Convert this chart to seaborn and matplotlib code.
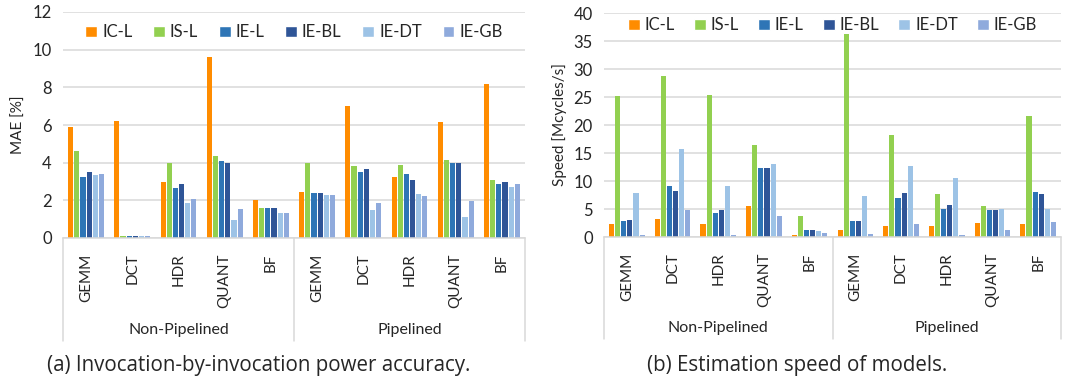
"""
Recreates the two-panel grouped bar chart:
(a) MAE of power models, (b) estimation speed of models.
"""

import pandas as pd
import matplotlib.pyplot as plt
import matplotlib.transforms as mtransforms
from matplotlib.patches import Patch
import seaborn as sns

# -----------------------------
# Data
# -----------------------------
benchmarks = ["GEMM", "DCT", "HDR", "QUANT", "BF"]
modes = ["Non-Pipelined", "Pipelined"]
models = ["IC-L", "IS-L", "IE-L", "IE-BL", "IE-DT", "IE-GB"]

# MAE [%], order: Non-Pipelined GEMM..BF, then Pipelined GEMM..BF
mae_ic_l = [5.9, 6.2, 3.0, 9.6, 2.0, 2.45, 7.0, 3.26, 6.18, 8.18]
mae_is_l = [4.6, 0.1, 4.0, 4.33, 1.57, 4.0, 3.8, 3.85, 4.15, 3.1]
mae_ie_l = [3.26, 0.1, 2.66, 4.08, 1.57, 2.38, 3.48, 3.41, 4.0, 2.89]
mae_ie_bl = [3.48, 0.1, 2.89, 4.0, 1.57, 2.38, 3.64, 3.1, 4.0, 2.96]
mae_ie_dt = [3.35, 0.1, 1.84, 0.96, 1.33, 2.29, 1.47, 2.36, 1.1, 2.73]
mae_ie_gb = [3.42, 0.1, 2.06, 1.54, 1.33, 2.29, 1.84, 2.22, 1.99, 2.89]

# Speed [Mcycles/s]
spd_ic_l = [2.3, 3.3, 2.3, 5.6, 0.3, 1.3, 2.0, 2.0, 2.5, 2.3]
spd_is_l = [25.1, 28.8, 25.3, 16.4, 3.8, 36.3, 18.3, 7.6, 5.5, 21.6]
spd_ie_l = [2.8, 9.1, 4.3, 12.4, 1.3, 2.8, 7.0, 5.0, 4.8, 8.1]
spd_ie_bl = [3.1, 8.3, 4.9, 12.4, 1.3, 2.8, 7.9, 5.8, 4.8, 7.6]
spd_ie_dt = [7.9, 15.7, 9.1, 13.1, 1.1, 7.3, 12.7, 10.6, 5.0, 5.0]
spd_ie_gb = [0.3, 4.8, 0.3, 3.8, 0.8, 0.5, 2.3, 0.3, 1.3, 2.6]

palette = ["#FF8C00", "#92D050", "#2E75B6", "#2F5597", "#9DC3E6", "#8FAADC"]
GRID = "#D9D9D9"


def to_long(series):
    rows = []
    for model, vals in zip(models, series):
        for i, v in enumerate(vals):
            rows.append({"pos": str(i), "model": model, "value": v})
    return pd.DataFrame(rows)


# -----------------------------
# Panel drawing
# -----------------------------
def draw_panel(ax, df, ylim, step, ylabel, legend_y, colspace):
    sns.barplot(data=df, x="pos", y="value", hue="model", hue_order=models,
                order=[str(i) for i in range(10)], palette=palette,
                saturation=1, width=0.8, linewidth=0,
                errorbar=None, ax=ax, legend=False)

    # leave a thin gap between neighbouring bars
    for bar in ax.patches:
        w = bar.get_width()
        bar.set_x(bar.get_x() + w * 0.08)
        bar.set_width(w * 0.84)

    ax.set_xlim(-0.5, 9.5)
    ax.set_ylim(0, ylim)
    ax.set_yticks(range(0, ylim + 1, step))
    ax.yaxis.grid(True, color=GRID, linewidth=1.1)
    ax.set_axisbelow(True)
    for side in ["left", "right", "top"]:
        ax.spines[side].set_visible(False)
    ax.spines["bottom"].set_color(GRID)
    ax.spines["bottom"].set_linewidth(1.1)
    ax.tick_params(axis="y", length=0, labelsize=12, pad=8)
    ax.tick_params(axis="x", length=0, labelsize=11, pad=11)
    ax.set_xticks(range(10))
    ax.set_xticklabels(benchmarks * 2, rotation=90, va="top")
    ax.set_xlabel("")
    ax.set_ylabel(ylabel, fontsize=11, labelpad=5)

    # group separators and group labels below the axis
    trans = mtransforms.blended_transform_factory(ax.transData, ax.transAxes)
    for x in [-0.5, 4.5, 9.5]:
        ax.plot([x, x], [0, -0.455], transform=trans, color=GRID,
                linewidth=1.1, clip_on=False)
    for center, name in zip([2, 7], modes):
        ax.text(center, -0.405, name, transform=trans, ha="center",
                va="center", fontsize=11.5)

    handles = [Patch(facecolor=c, label=m) for c, m in zip(palette, models)]
    ax.legend(handles=handles, loc="center", bbox_to_anchor=(0.5, legend_y),
              ncol=6, frameon=False, fontsize=12, handlelength=0.7,
              handleheight=0.7, handletextpad=0.3, columnspacing=colspace)


# -----------------------------
# Main
# -----------------------------
def main():
    sns.set_theme(style="white")
    plt.rcParams["font.family"] = ["Lato", "DejaVu Sans"]

    fig = plt.figure(figsize=(10.66, 3.83), dpi=100)
    ax1 = fig.add_axes([63 / 1066, 1 - 238 / 383, 462 / 1066, 226 / 383])
    ax2 = fig.add_axes([604 / 1066, 1 - 237 / 383, 457 / 1066, 224 / 383])

    draw_panel(ax1, to_long([mae_ic_l, mae_is_l, mae_ie_l, mae_ie_bl,
                             mae_ie_dt, mae_ie_gb]),
               12, 2, "MAE [%]", 0.91, 1.25)
    draw_panel(ax2, to_long([spd_ic_l, spd_is_l, spd_ie_l, spd_ie_bl,
                             spd_ie_dt, spd_ie_gb]),
               40, 5, "Speed [Mcycles/s]", 0.945, 1.15)

    fig.text(259 / 1066, 1 - 365 / 383, "(a) Invocation-by-invocation power accuracy.",
             ha="center", va="center", fontsize=14.8,
             family=["Open Sans", "DejaVu Sans"])
    fig.text(797 / 1066, 1 - 365 / 383, "(b) Estimation speed of models.",
             ha="center", va="center", fontsize=14.8,
             family=["Open Sans", "DejaVu Sans"])

    fig.savefig("out.png", dpi=100)


if __name__ == "__main__":
    main()
